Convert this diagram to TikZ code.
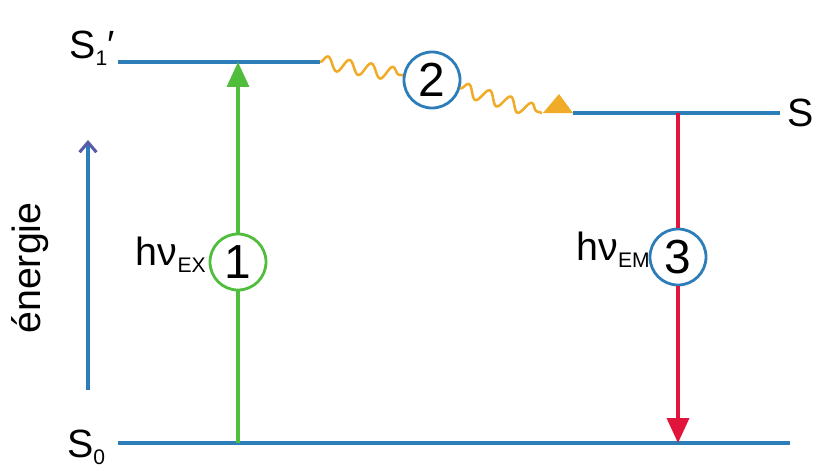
\documentclass[tikz,border=0pt]{standalone}
\usepackage{fontspec}
\setmainfont{Liberation Sans}
\usetikzlibrary{arrows.meta,positioning,decorations.pathmorphing}
\definecolor{lvlblue}{RGB}{45,125,185}
\definecolor{exgreen}{RGB}{80,190,60}
\definecolor{emred}{RGB}{225,20,60}
\definecolor{vrorange}{RGB}{240,172,40}
\definecolor{axpurple}{RGB}{90,90,170}
\tikzset{
  level/.style={draw=lvlblue,line width=2.6pt},
  step1/.style={draw,circle,minimum size=1.4cm,inner sep=0pt,line width=2pt,font=\fontsize{34}{36}\selectfont},
  lbl/.style={font=\fontsize{28}{30}\selectfont,inner sep=0pt},
  wavy/.style={draw=vrorange,line width=1.8pt,decorate,decoration={snake,amplitude=0.17cm,segment length=0.55cm}}
}
\newcommand{\lowtxt}[1]{\raisebox{-0.35ex}{\fontsize{15}{16}\selectfont #1}}

\begin{document}
\begin{tikzpicture}[x=0.025cm,y=-0.025cm]
\useasboundingbox (0,0) rectangle (823,470);
% levels
\coordinate (s1pa) at (118,62);
\coordinate (s1pb) at (320,62);
\coordinate (s1a) at (573,113);
\coordinate (s1b) at (780,113);
\coordinate (s0a) at (118,443);
\coordinate (s0b) at (790,443);
\draw[level] (s1pa) -- (s1pb);
\draw[level] (s1a) -- (s1b);
\draw[level] (s0a) -- (s0b);
\node[lbl] (ls1p) at (92,48) {S\lowtxt{1}′};
\node[lbl,anchor=west] (ls1) at (787,113) {S};
\node[lbl] (ls0) at (86,447) {S\lowtxt{0}};
% energy axis
\coordinate (ea) at (88,390);
\coordinate (eb) at (88,140);
\draw[draw=lvlblue,line width=2.2pt,-{Straight Barb[length=7pt,width=12pt,color=axpurple]}] (ea) -- (eb);
\node[lbl,rotate=90] (len) at (30,268) {énergie};
% 1 excitation
\coordinate (exa) at (238,443);
\coordinate (exb) at (238,62);
\node[step1,draw=exgreen,fill=white] (c1) at (238,262) {1};
\draw[exgreen,line width=2.2pt] (exa) -- (c1);
\draw[exgreen,line width=2.2pt,-{Triangle[length=0.62cm,width=0.55cm]}] (c1) -- (exb);
\node[lbl,anchor=east] (lex) at (206,255) {hν\lowtxt{EX}};
% 2 relaxation
\node[step1,draw=lvlblue] (c2) at (432,80) {2};
\draw[wavy] (s1pb) -- (c2);
\draw[wavy] (c2) -- ([xshift=-22]s1a);
\draw[draw=none,fill=vrorange] (s1a) -- ++(-30,0) -- ++(16,-19) -- cycle;
% 3 emission
\coordinate (ema) at (678,113);
\coordinate (emb) at (678,443);
\node[step1,draw=lvlblue] (c3) at (678,257) {3};
\draw[emred,line width=2.2pt] (ema) -- (c3);
\draw[emred,line width=2.2pt,-{Triangle[length=0.62cm,width=0.55cm]}] (c3) -- (emb);
\node[lbl,anchor=east] (lem) at (650,250) {hν\lowtxt{EM}};
\end{tikzpicture}
\end{document}
